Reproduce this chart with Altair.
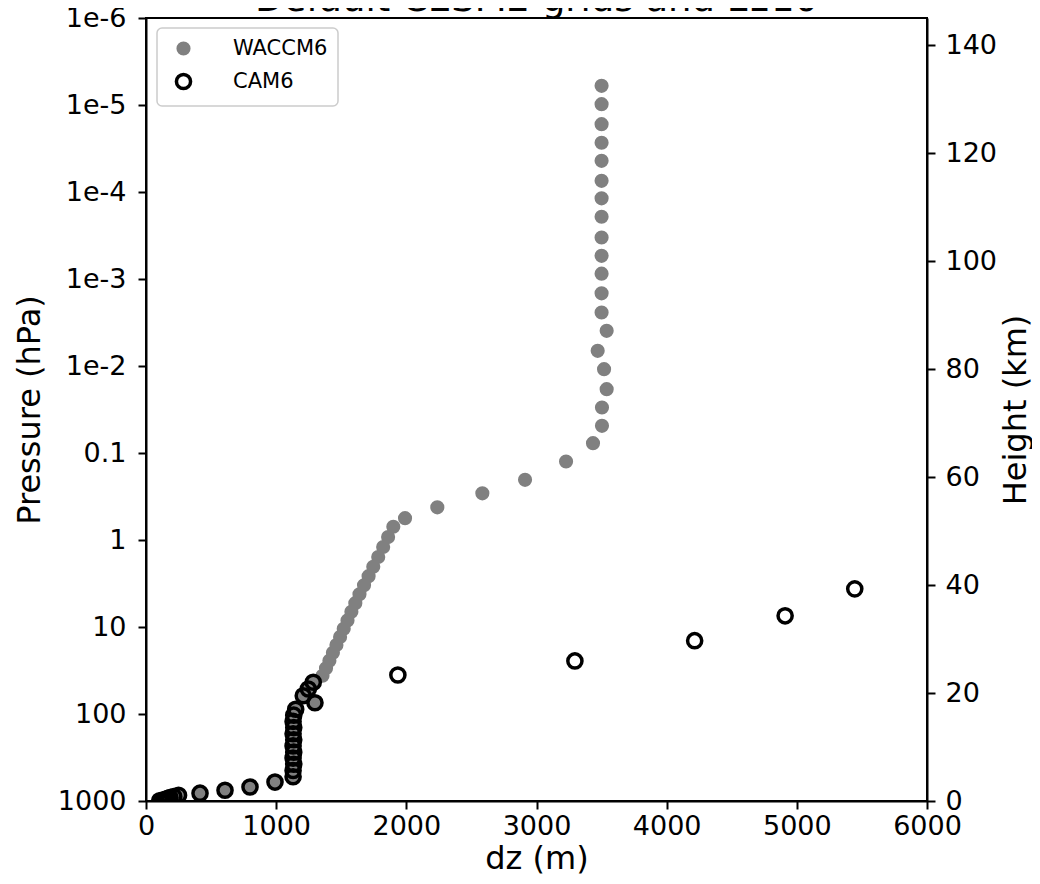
import numpy as np
import pandas as pd
import altair as alt

title_text = "Default CESM2 grids and L110"
series_names = ["WACCM6", "CAM6"]

# WACCM6 levels: height (km) and layer thickness dz (m)
waccm_z_km = [132.5, 129.1, 125.4, 121.95, 118.6, 114.9, 111.65, 108.25, 104.4, 101.0,
              97.7, 94.05, 90.5, 87.1, 83.4, 80.0, 76.3, 72.9, 69.5, 66.3,
              62.9, 59.5, 57.0, 54.4, 52.4, 50.8,
              48.9, 47.05, 45.2, 43.4, 41.65, 39.95, 38.3, 36.65, 35.05, 33.45,
              31.9, 30.4, 28.9, 27.45, 26.0, 24.6, 23.2,
              22.0, 20.75, 19.5, 18.2, 17.0, 15.9, 14.75, 13.6, 12.45, 11.35,
              10.2, 9.05, 7.95, 6.8, 5.65, 4.5, 3.5, 2.6, 2.0, 1.45,
              1.05, 0.84, 0.64, 0.46, 0.30, 0.17, 0.05]
waccm_dz_m = [3500, 3500, 3500, 3500, 3500, 3500, 3500, 3500, 3500, 3500,
              3500, 3500, 3500, 3539, 3470, 3519, 3539, 3503, 3503, 3434,
              3227, 2912, 2584, 2238, 1990, 1900,
              1860, 1822, 1784, 1746, 1710, 1675, 1640, 1608, 1578, 1548,
              1519, 1491, 1463, 1436, 1409, 1383, 1356,
              1285, 1247, 1208, 1298, 1150, 1135, 1130, 1135, 1130, 1135,
              1130, 1135, 1130, 1135, 1130, 1130, 991, 799, 607, 415,
              250, 213, 184, 165, 150, 128, 105]

# CAM6 levels
cam_z_km = [39.3, 34.3, 29.7, 25.95, 23.35,
            22.0, 20.75, 19.5, 18.2, 17.0, 15.9, 14.75, 13.6, 12.45, 11.35,
            10.2, 9.05, 7.95, 6.8, 5.65, 4.5, 3.5, 2.6, 2.0, 1.45,
            1.05, 0.84, 0.64, 0.46, 0.30, 0.17, 0.05]
cam_dz_m = [5445, 4910, 4215, 3295, 1935,
            1285, 1247, 1208, 1298, 1150, 1135, 1130, 1135, 1130, 1135,
            1130, 1135, 1130, 1135, 1130, 1130, 991, 799, 607, 415,
            250, 213, 184, 165, 150, 128, 105]

p_ticks = [1e-6, 1e-5, 1e-4, 1e-3, 1e-2, 0.1, 1, 10, 100, 1000]
x_ticks = [0, 1000, 2000, 3000, 4000, 5000, 6000]
z_ticks = [0, 20, 40, 60, 80, 100, 120, 140]

H_KM = 7.0      # scale height used for the height axis
P0 = 1000.0

df = pd.concat([
    pd.DataFrame({"series": series_names[0], "z": waccm_z_km, "dz": waccm_dz_m}),
    pd.DataFrame({"series": series_names[1], "z": cam_z_km, "dz": cam_dz_m}),
], ignore_index=True)
df["p"] = P0 * np.exp(-df["z"] / H_KM)

z_top = H_KM * np.log(P0 / p_ticks[0])

W, HGT = 781, 783
FONT = "DejaVu Sans"

points = alt.Chart(df).mark_point(shape="circle", filled=True, clip=True,
                                  size=200, strokeWidth=3.5, opacity=1).encode(
    x=alt.X("dz:Q",
            scale=alt.Scale(domain=[0, 6000], nice=False, zero=False),
            axis=alt.Axis(values=x_ticks, format="d", title="dz (m)",
                          titleX=W / 2, titleY=57, titleBaseline="middle",
                          labelPadding=4, labelFlush=False)),
    y=alt.Y("p:Q",
            scale=alt.Scale(type="log", domain=[p_ticks[0], p_ticks[-1]],
                            reverse=True, nice=False),
            axis=alt.Axis(values=p_ticks, orient="left", title="Pressure (hPa)",
                          labelExpr="datum.value < 0.05 ? '1e' + round(log(datum.value)/LN10) : (datum.value >= 1 ? format(datum.value, 'd') : format(datum.value, '.1f'))",
                          titleX=-117, titleY=HGT / 2, titleAngle=270,
                          titleBaseline="middle", titleAlign="center",
                          labelPadding=12, labelFlush=False)),
    fill=alt.Fill("series:N",
                  scale=alt.Scale(domain=series_names, range=["#808080", "transparent"]),
                  legend=alt.Legend(title=None)),
    stroke=alt.Stroke("series:N",
                      scale=alt.Scale(domain=series_names, range=["transparent", "black"]),
                      legend=alt.Legend(title=None)),
)

height_axis = alt.Chart(pd.DataFrame({"z": z_ticks})).mark_point(opacity=0).encode(
    x=alt.value(0),
    y=alt.Y("z:Q",
            scale=alt.Scale(domain=[0, z_top], nice=False, zero=False),
            axis=alt.Axis(values=z_ticks, orient="right", title="Height (km)",
                          titleX=88, titleY=HGT / 2, titleAngle=270,
                          titleBaseline="middle", titleAlign="center",
                          labelPadding=10, labelFlush=False)),
)

title = alt.Chart(pd.DataFrame({"t": [title_text]})).mark_text(
    font=FONT, fontSize=37, align="center", baseline="alphabetic", color="black"
).encode(text="t:N", x=alt.value(W / 2), y=alt.value(-7))

chart = alt.layer(points, height_axis, title).resolve_scale(y="independent").properties(
    width=W, height=HGT,
    autosize=alt.AutoSizeParams(type="none"),
    padding={"left": 138, "top": 10, "right": 105, "bottom": 80},
).configure(font=FONT).configure_view(
    stroke="black", strokeWidth=2
).configure_axis(
    labelFont=FONT, titleFont=FONT, labelFontSize=27, titleFontSize=32,
    labelColor="black", titleColor="black", titleFontWeight="normal",
    domainColor="black", domainWidth=2, tickColor="black", tickWidth=2,
    tickSize=8, grid=False,
).configure_legend(
    orient="none", legendX=11, legendY=10, padding=10, cornerRadius=5,
    strokeColor="#cccccc", fillColor="white", strokeWidth=1.5,
    labelFont=FONT, labelFontSize=21, labelColor="black", labelOffset=39,
    rowPadding=4, symbolSize=200, symbolStrokeWidth=3.5, symbolType="circle",
    symbolOffset=6,
)

chart.save("out.html", embed_options={"renderer": "svg", "actions": False})
